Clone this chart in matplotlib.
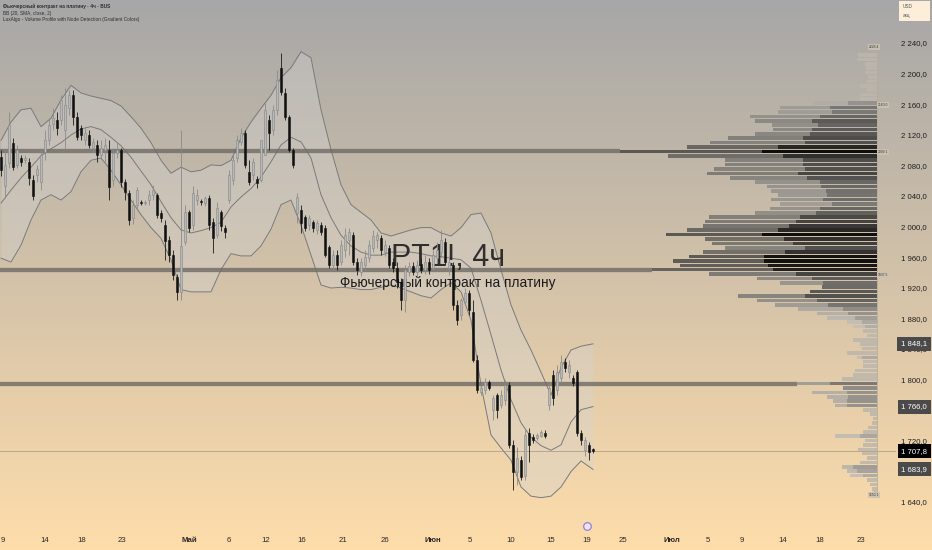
import numpy as np
import matplotlib
matplotlib.use("Agg")
import matplotlib.pyplot as plt
from matplotlib.patches import Rectangle
from matplotlib.transforms import blended_transform_factory as blend

plt.rcParams["font.family"] = ["Liberation Sans", "DejaVu Sans"]

# ---------------------------------------------------------------
# 4h candles (PT1!)
# ---------------------------------------------------------------
opens = [2092, 2054, 2085, 2111, 2082, 2091, 2088, 2086, 2062, 2069,
         2060, 2099, 2114, 2135, 2141, 2141, 2128, 2156, 2173, 2145,
         2130, 2115, 2121, 2104, 2108, 2095, 2101, 2101, 2062, 2098,
         2101, 2059, 2045, 2012, 2030, 2033, 2032, 2036, 2043, 2042,
         2019, 2004, 1984, 1964, 1935, 1916, 1981, 2020, 2003, 2036,
         2035, 2032, 2039, 2007, 1990, 2020, 2000, 2036, 2062, 2091,
         2112, 2124, 2073, 2069, 2064, 2062, 2095, 2141, 2128, 2154,
         2209, 2176, 2145, 2101, 2019, 2023, 2014, 2003, 2007, 1997,
         2003, 2000, 1974, 1951, 1964, 1955, 1971, 1984, 1990, 1955,
         1942, 1951, 1960, 1973, 1984, 1986, 1968, 1973, 1955, 1947,
         1929, 1905, 1942, 1950, 1942, 1953, 1945, 1955, 1947, 1960,
         1968, 1981, 1947, 1951, 1899, 1886, 1903, 1915, 1890, 1827,
         1785, 1788, 1798, 1762, 1781, 1768, 1775, 1794, 1716, 1681,
         1696, 1675, 1732, 1726, 1725, 1728, 1732, 1768, 1807, 1788,
         1804, 1824, 1811, 1804, 1811, 1732, 1709, 1716, 1710]
highs = [2101, 2101, 2151, 2117, 2108, 2095, 2095, 2091, 2069, 2082,
         2101, 2127, 2143, 2156, 2151, 2173, 2183, 2180, 2180, 2151,
         2134, 2130, 2128, 2117, 2115, 2115, 2117, 2115, 2104, 2110,
         2104, 2064, 2049, 2036, 2053, 2036, 2036, 2049, 2056, 2045,
         2023, 2010, 1989, 1971, 1939, 2128, 2030, 2023, 2055, 2051,
         2038, 2041, 2042, 2012, 2033, 2023, 2003, 2075, 2099, 2121,
         2130, 2128, 2088, 2091, 2068, 2115, 2163, 2147, 2160, 2206,
         2228, 2183, 2147, 2104, 2045, 2030, 2017, 2017, 2010, 2010,
         2007, 2004, 1977, 1971, 1971, 1984, 1999, 1999, 1994, 1960,
         1960, 1971, 1984, 1997, 1994, 1990, 1984, 1977, 1960, 1955,
         1934, 1951, 1955, 1955, 1958, 1960, 1964, 1960, 1971, 1981,
         1997, 1986, 1964, 1955, 1905, 1908, 1921, 1919, 1905, 1834,
         1795, 1803, 1801, 1781, 1784, 1788, 1801, 1798, 1722, 1713,
         1702, 1735, 1738, 1730, 1732, 1736, 1735, 1797, 1814, 1820,
         1834, 1829, 1827, 1807, 1814, 1736, 1726, 1720, 1712]
lows = [2067, 2039, 2078, 2075, 2078, 2081, 2084, 2056, 2036, 2060,
        2049, 2088, 2108, 2128, 2121, 2134, 2101, 2147, 2134, 2115,
        2115, 2108, 2104, 2099, 2086, 2091, 2086, 2036, 2055, 2091,
        2053, 2036, 2004, 2005, 2023, 2029, 2030, 2030, 2036, 2012,
        2007, 1958, 1955, 1932, 1905, 1905, 1977, 1994, 1997, 2030,
        2030, 2028, 1997, 1967, 1987, 1995, 1987, 2032, 2056, 2086,
        2108, 2078, 2056, 2062, 2052, 2060, 2095, 2101, 2121, 2147,
        2173, 2141, 2099, 2078, 2006, 1993, 1996, 1997, 1994, 1991,
        1990, 1961, 1947, 1945, 1945, 1951, 1961, 1964, 1951, 1938,
        1937, 1945, 1955, 1968, 1973, 1964, 1963, 1947, 1942, 1921,
        1892, 1890, 1937, 1938, 1936, 1941, 1940, 1940, 1945, 1955,
        1962, 1951, 1938, 1892, 1873, 1879, 1899, 1886, 1824, 1784,
        1781, 1783, 1788, 1749, 1751, 1764, 1768, 1712, 1657, 1664,
        1670, 1670, 1694, 1719, 1722, 1726, 1725, 1762, 1768, 1781,
        1798, 1811, 1804, 1793, 1728, 1716, 1701, 1696, 1705]
closes = [2075, 2082, 2134, 2079, 2101, 2086, 2091, 2065, 2041, 2077,
          2095, 2114, 2134, 2143, 2130, 2167, 2160, 2173, 2145, 2118,
          2121, 2124, 2108, 2112, 2095, 2104, 2108, 2053, 2098, 2101,
          2059, 2047, 2010, 2030, 2049, 2032, 2034, 2043, 2049, 2017,
          2013, 1982, 1964, 1938, 1916, 1976, 2020, 2000, 2045, 2042,
          2034, 2039, 2004, 1986, 2026, 2002, 1994, 2069, 2088, 2114,
          2124, 2082, 2060, 2086, 2058, 2115, 2154, 2124, 2154, 2193,
          2177, 2145, 2101, 2082, 2040, 2006, 2000, 2013, 2000, 2006,
          1994, 1964, 1951, 1964, 1951, 1977, 1990, 1994, 1955, 1945,
          1955, 1962, 1977, 1989, 1990, 1971, 1977, 1951, 1947, 1929,
          1905, 1945, 1950, 1942, 1951, 1945, 1955, 1945, 1964, 1971,
          1984, 1955, 1955, 1899, 1879, 1905, 1915, 1892, 1827, 1788,
          1790, 1798, 1790, 1777, 1762, 1781, 1794, 1716, 1681, 1699,
          1674, 1729, 1716, 1722, 1729, 1733, 1728, 1790, 1777, 1811,
          1824, 1817, 1821, 1797, 1732, 1722, 1722, 1707, 1707.8]

# Bollinger Bands (20, SMA, close, 2), sampled along the bars
band_bar = np.r_[np.arange(0, 145.1, 2.5), 148.0]
bb_upper = [2114, 2138, 2154, 2156, 2132, 2143, 2167, 2186, 2176, 2172,
            2169, 2166, 2159, 2145, 2130, 2111, 2088, 2071, 2079, 2073,
            2075, 2082, 2081, 2088, 2117, 2138, 2156, 2173, 2196, 2209,
            2230, 2222, 2154, 2102, 2056, 2030, 2020, 2010, 1993, 1989,
            1993, 1997, 2000, 2000, 1993, 1989, 2000, 2017, 2019, 1993,
            1945, 1899, 1866, 1840, 1811, 1781, 1817, 1840, 1845, 1848.1]
bb_mid = [2032, 2049, 2065, 2079, 2094, 2103, 2111, 2121, 2129, 2132,
          2128, 2118, 2107, 2092, 2074, 2056, 2034, 2013, 1997, 1993,
          1996, 2000, 2007, 2027, 2040, 2051, 2066, 2086, 2108, 2118,
          2112, 2091, 2043, 2013, 1990, 1976, 1968, 1964, 1964, 1968,
          1968, 1968, 1966, 1963, 1962, 1960, 1958, 1947, 1905, 1860,
          1814, 1775, 1745, 1726, 1715, 1709, 1716, 1746, 1762, 1766.0]
bb_lower = [1960, 1955, 1977, 2010, 2036, 2043, 2036, 2047, 2073, 2088,
            2091, 2075, 2056, 2036, 2017, 2000, 1986, 1958, 1919, 1916,
            1916, 1916, 1945, 1966, 1963, 1963, 1976, 1998, 2030, 2036,
            2003, 1964, 1925, 1921, 1922, 1921, 1919, 1919, 1922, 1925,
            1921, 1916, 1911, 1908, 1919, 1928, 1916, 1879, 1794, 1729,
            1712, 1696, 1661, 1649, 1647, 1649, 1661, 1681, 1695, 1683.9]

# Volume profile (bottom -> top), total and darker part, relative units
vp_lo, vp_hi = 1650.1, 2228.4
vp_total = [4, 5, 7, 10, 27, 30, 35, 17, 10, 15,
            19, 14, 12, 42, 14, 9, 5, 4, 7, 14,
            42, 44, 50, 65, 34, 80, 35, 24, 22, 14,
            14, 20, 30, 15, 17, 24, 10, 14, 24, 30,
            50, 60, 79, 102, 120, 139, 67, 55, 97, 120,
            168, 225, 197, 204, 188, 174, 152, 165, 172, 211,
            190, 174, 172, 168, 122, 107, 97, 106, 99, 106,
            110, 122, 147, 170, 163, 152, 152, 209, 257, 190,
            167, 149, 122, 104, 105, 122, 127, 99, 97, 64,
            17, 17, 10, 17, 10, 9, 12, 11, 12, 20, 19]
vp_dark = [0, 0, 0, 0, 14, 20, 24, 0, 0, 0,
           0, 0, 0, 17, 0, 0, 0, 0, 0, 0,
           30, 30, 29, 30, 34, 47, 0, 0, 0, 0,
           0, 15, 0, 0, 0, 0, 0, 0, 12, 15,
           22, 29, 34, 49, 60, 72, 67, 55, 54, 65,
           81, 104, 109, 113, 113, 92, 72, 84, 93, 115,
           99, 88, 81, 77, 61, 57, 45, 54, 50, 51,
           56, 57, 70, 79, 72, 74, 74, 94, 115, 99,
           72, 74, 67, 65, 59, 65, 57, 45, 47, 29,
           0, 0, 0, 0, 0, 0, 0, 0, 0, 0, 0]
node_bins = [25, 51, 78]
vp_tags = ["2228.4", "2160.0", "2099.1", "1937.5", "1650.1"]
vp_tag_prices = [2236, 2160.3, 2098.8, 1938.1, 1650.5]

last_price = 1707.8
# 1 760,0 and 1 680,0 sit fully under the price tags, so they are not shown
price_ticks = [2240, 2200, 2160, 2120, 2080, 2040, 2000, 1960, 1920, 1880,
               1840, 1800, 1720, 1640]
tag_values = [1848.1, 1766.0, 1707.8, 1683.9]
tag_colors = ["#4a4a4a", "#4a4a4a", "#000000", "#4a4a4a"]

date_pos = [0.5, 10.9, 20.1, 30.25, 47.0, 56.9, 66.25, 75.25, 85.5, 95.9, 107.9,
            117.25, 127.4, 137.4, 146.5, 155.5, 167.75, 176.75, 185.2, 195.5,
            204.65, 214.9]
date_labels = ["9", "14", "18", "23", "Май", "6", "12", "16", "21", "26", "Июн",
               "5", "10", "15", "19", "25", "Июл", "5", "9", "14", "18", "23"]
month_labels = {"Май", "Июн", "Июл"}

legend_lines = ["Фьючерсный контракт на платину · 4ч · BUS",
                "BB (20, SMA, close, 2)",
                "LuxAlgo - Volume Profile with Node Detection (Gradient Colors)"]

# ---------------------------------------------------------------
# figure + gradient background
# ---------------------------------------------------------------
W, H = 932, 550
fig = plt.figure(figsize=(W / 100, H / 100), dpi=100)
bg = fig.add_axes([0, 0, 1, 1], zorder=-10)
top_c = np.array([167, 167, 167]) / 255
bot_c = np.array([254, 221, 171]) / 255
g = np.linspace(0, 1, 300)[:, None, None]
bg.imshow(top_c + (bot_c - top_c) * g, aspect="auto", extent=[0, 1, 0, 1])
bg.axis("off")

ax = fig.add_axes([0, 28 / H, 896 / W, 522 / H])
ax.set_facecolor("none")
ax.set_xlim(-0.25, 223.75)
ax.set_ylim(1615.2, 2297.5)
ax.axis("off")

# --- Bollinger bands ---
ax.fill_between(band_bar, bb_lower, bb_upper, color="#d4d4d4", alpha=0.35, lw=0, zorder=1)
for band in (bb_upper, bb_mid, bb_lower):
    ax.plot(band_bar, band, color="#7a7a7a", lw=0.7, zorder=2)

# --- volume profile (gradient colours by volume) ---
vp_right = 219.0
px = 0.25                                   # one screen pixel in bar units
edges = np.linspace(vp_lo, vp_hi, len(vp_total) + 1)
bh = edges[1] - edges[0]
dmax = max(vp_dark)
for k, (tot, drk) in enumerate(zip(vp_total, vp_dark)):
    yc = 0.5 * (edges[k] + edges[k + 1])
    if drk > 0:
        t = drk / dmax
        g1 = 0.82 - 0.52 * t
        g2 = 0.76 - 0.76 * t
        if tot > drk:
            ax.barh(yc, (tot - drk) * px, left=vp_right - tot * px, height=bh * 0.82,
                    color=(g1, g1 * 0.98, g1 * 0.95), alpha=0.88, lw=0, zorder=3)
        ax.barh(yc, drk * px, left=vp_right - drk * px, height=bh * 0.82,
                color=(g2, g2 * 0.99, g2 * 0.97), alpha=0.92, lw=0, zorder=3)
    else:
        ax.barh(yc, tot * px, left=vp_right - tot * px, height=bh * 0.82,
                color="#bcb6ac", alpha=0.85, lw=0, zorder=3)
ax.vlines(vp_right, vp_lo, vp_hi + 4, color="#b5ad9f", lw=0.6, zorder=3)

# node lines running left from the profile
for k in node_bins:
    yc = 0.5 * (edges[k] + edges[k + 1])
    ax.hlines(yc, -0.25, vp_right - vp_total[k] * px, color="#6e6a65", lw=3.1,
              alpha=0.8, zorder=2.5)

for lab, p in zip(vp_tags, vp_tag_prices):
    xt = vp_right - 0.75 if lab in (vp_tags[0], vp_tags[-1]) else vp_right + 1.5
    ax.text(xt, p, lab, fontsize=2.4, color="#3a3a3a", ha="center", va="center",
            bbox=dict(boxstyle="square,pad=0.35", fc="#cbc2b2", ec="none", alpha=0.9),
            zorder=6, clip_on=False)

# watermark (above the band shading, below the candles)
ax.text(0.5, 1 - 258 / 522, "PT1!, 4ч", transform=ax.transAxes, ha="center",
        va="center", fontsize=22, color="#222222", alpha=0.92, zorder=3.5)
ax.text(0.5, 1 - 283 / 522, "Фьючерсный контракт на платину", transform=ax.transAxes,
        ha="center", va="center", fontsize=9.8, color="#1a1a1a", zorder=3.5)

# --- candles ---
o = np.array(opens, float); h_ = np.array(highs, float)
l_ = np.array(lows, float); c = np.array(closes, float)
idx = np.arange(len(o))
up = c >= o
ax.vlines(idx[up], l_[up], h_[up], color="#8a8a8a", lw=0.6, zorder=4)
ax.vlines(idx[~up], l_[~up], h_[~up], color="#1a1a1a", lw=0.6, zorder=4)
body_lo = np.minimum(o, c)
body_h = np.maximum(np.abs(c - o), 1.4)
ax.bar(idx[up], body_h[up], bottom=body_lo[up], width=0.68, color="#b9b9b9",
       edgecolor="#858585", lw=0.4, zorder=5)
ax.bar(idx[~up], body_h[~up], bottom=body_lo[~up], width=0.68, color="#111111",
       edgecolor="#111111", lw=0.4, zorder=5)

# last price line
ax.axhline(last_price, color="#a39482", lw=0.5, zorder=2)

# --- price scale ---
tr_price = blend(fig.transFigure, ax.transData)
for p in price_ticks:
    s = f"{p:,.1f}".replace(",", " ").replace(".", ",")
    ax.text(927 / W, p, s, transform=tr_price, ha="right", va="center", fontsize=5.6,
            color="#1e1e1e", clip_on=False, zorder=6)
for v, fc in zip(tag_values, tag_colors):
    s = f"{v:,.1f}".replace(",", " ").replace(".", ",")
    ax.text(927 / W, v, s, transform=tr_price, ha="right", va="center", fontsize=5.6,
            color="white", clip_on=False, zorder=7,
            bbox=dict(boxstyle="square,pad=0.45", fc=fc, ec="none"))

# --- time scale ---
tr_time = blend(ax.transData, fig.transFigure)
for xp, lab in zip(date_pos, date_labels):
    ax.text(xp, 10 / H, lab, transform=tr_time, ha="center", va="center", fontsize=5.6,
            color="#2a2a2a", fontweight="bold" if lab in month_labels else "normal",
            clip_on=False)
ax.plot([146.5], [(H - 526) / H], transform=tr_time, marker="o", ms=5.5,
        mfc="#ece4fb", mec="#9a7fd6", mew=0.9, clip_on=False, zorder=8)

# --- top-left legend ---
for j, line in enumerate(legend_lines):
    fig.text(3 / W, 1 - (6 + 7 * j) / H, line, fontsize=3.4, color="#2e2e2e",
             ha="left", va="center", fontweight="bold" if j == 0 else "normal")

# currency box
fig.patches.append(Rectangle((899 / W, 1 - 21 / H), 31 / W, 20 / H,
                             transform=fig.transFigure, fc="#fdeed9", ec="none"))
fig.text(903 / W, 1 - 6 / H, "USD", fontsize=3.4, color="#555555", va="center")
fig.text(903 / W, 1 - 15 / H, "акц", fontsize=3.4, color="#555555", va="center")

fig.savefig("out.png", dpi=100)
